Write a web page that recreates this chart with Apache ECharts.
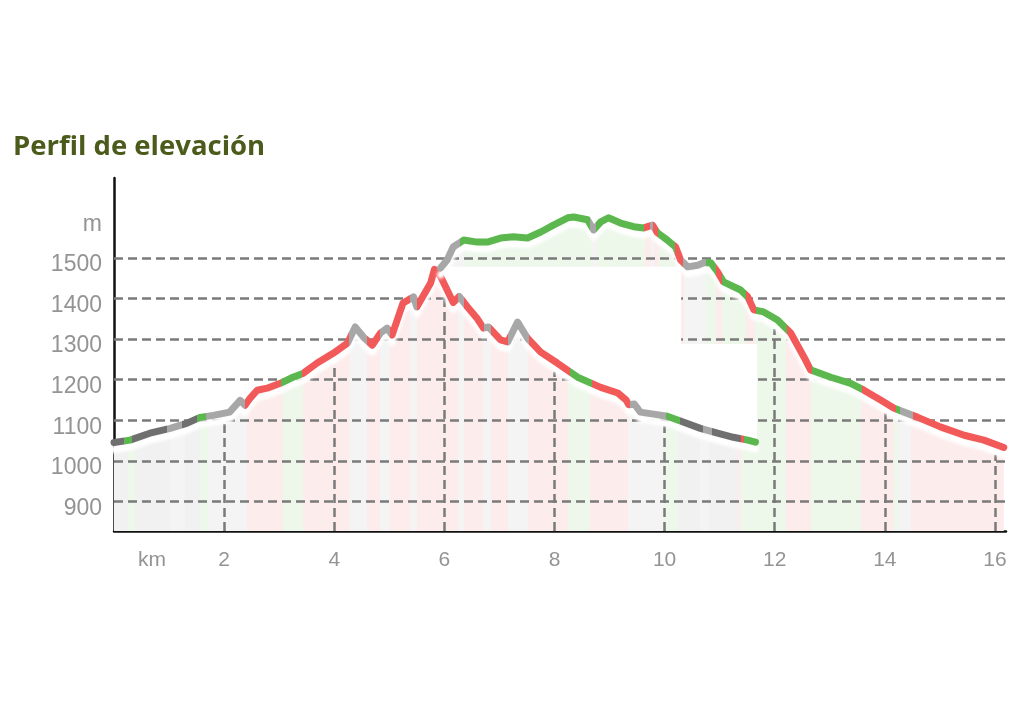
<!DOCTYPE html>
<html><head><meta charset="utf-8">
<script src="https://cdn.jsdelivr.net/npm/echarts@6/dist/echarts.min.js"></script>
<style>html,body{margin:0;padding:0;background:#fff}#c{width:1024px;height:709px}</style>
</head><body><div id="c"></div>
<script>
// ---- data (km, elevation m) ----
const routeA = [[0,1045],[0.29,1051],[0.65,1068],[1.02,1080],[1.33,1093],[1.56,1107],[1.8,1112],[2.1,1120],[2.29,1149],[2.38,1137],[2.47,1154],[2.6,1174],[2.78,1179],[3.02,1191],[3.25,1206],[3.44,1216],[3.69,1241],[3.98,1265],[4.24,1290],[4.38,1330],[4.53,1305],[4.69,1285],[4.84,1315],[4.96,1327],[5.05,1310],[5.25,1389],[5.44,1404],[5.5,1379],[5.75,1438],[5.82,1472],[5.93,1455],[6.16,1390],[6.27,1405],[6.42,1379],[6.6,1350],[6.71,1327],[6.8,1330],[7.02,1298],[7.15,1293],[7.33,1342],[7.51,1302],[7.75,1268],[8.05,1241],[8.42,1206],[8.84,1181],[9.15,1167],[9.3,1150],[9.35,1138],[9.45,1140],[9.56,1120],[9.8,1115],[10.05,1110],[10.35,1095],[10.65,1080],[10.96,1068],[11.25,1058],[11.51,1051],[11.65,1046]];
const routeB = [[5.93,1475],[6.05,1495],[6.16,1527],[6.35,1544],[6.6,1539],[6.78,1539],[7.02,1549],[7.25,1552],[7.51,1549],[7.75,1564],[7.98,1581],[8.24,1599],[8.35,1601],[8.6,1594],[8.71,1569],[8.84,1589],[8.98,1599],[9.2,1586],[9.44,1577],[9.62,1574],[9.78,1581],[9.87,1562],[10.05,1544],[10.2,1527],[10.29,1495],[10.42,1478],[10.6,1482],[10.71,1488],[10.84,1488],[10.96,1466],[11.07,1441],[11.38,1421],[11.51,1404],[11.62,1372],[11.8,1367],[12.05,1347],[12.29,1315],[12.53,1256],[12.65,1224],[13.02,1206],[13.38,1191],[13.62,1174],[13.93,1149],[14.16,1130],[14.35,1120],[14.6,1107],[15.02,1083],[15.44,1063],[15.8,1051],[16.16,1033]];
// slope class segments: start km and class
const segAStart = [0,0.25,0.38,1.02,1.29,1.56,1.71,2.42,3.07,3.44,4.29,4.6,4.84,5.02,5.38,5.51,6.24,6.35,6.71,6.84,7.15,7.51,8.25,8.65,9.33,9.98,10.24,10.65,10.8,11.33,11.38];
const segAGrade = ['dark','green','dark','light','dark','green','light','red','green','red','light','red','light','red','light','red','light','red','light','red','light','red','green','red','light','green','dark','light','dark','red','green'];
const segBStart = [5.93,6.35,8.68,8.78,9.65,9.75,9.8,9.9,10.2,10.35,10.75,10.93,11.05,11.47,11.65,12.2,12.65,13.56,14.16,14.24,14.47];
const segBGrade = ['light','green','light','green','red','light','red','green','red','light','green','red','green','red','green','red','green','red','green','light','red'];
const yGridValues = [900,1000,1100,1200,1300,1400,1500];
const yLabelValues = [900,1000,1100,1200,1300,1400,1500,1600];
const xGridValues = [2,4,6,8,10,12,14,16];
const titleText = 'Perfil de elevación';

// ---- layout / style ----
const X_MIN = 0, X_MAX = 16.2, Y_MIN = 827, Y_MAX = 1697;
const lineColors = {red:'#f25a5a', green:'#5cb84e', light:'#a7a7a7', dark:'#6f6f6f'};
const tintColors = {red:'#fdecec', green:'#edf7ea', light:'#f4f4f4', dark:'#f1f1f1'};
const maskBounds = {start:5.25, step:10.3, end:11.68, highTop:1478, lowTop:1288};
const gridStyle = {type:[9,5], color:'#7a7a7a', width:2.5};
const labelColor = '#949494';

function gradient(data, starts, grades, palette) {
  const x0 = data[0][0], x1 = data[data.length - 1][0];
  const stops = [];
  for (let i = 0; i < starts.length; i++) {
    const s = Math.max(0, (starts[i] - x0) / (x1 - x0));
    const e = i + 1 < starts.length ? Math.min(1, (starts[i + 1] - x0) / (x1 - x0)) : 1;
    const c = palette[grades[i]];
    stops.push({offset: s, color: c}, {offset: e, color: c});
  }
  return new echarts.graphic.LinearGradient(0, 0, 1, 0, stops);
}
function elevAt(data, km) {
  for (let i = 1; i < data.length; i++) {
    if (data[i][0] >= km) {
      const a = data[i - 1], b = data[i];
      return a[1] + (b[1] - a[1]) * (km - a[0]) / (b[0] - a[0]);
    }
  }
  return data[data.length - 1][1];
}

const markData = yGridValues.map(v => ({yAxis: v}));
xGridValues.forEach(k => {
  const src = k <= routeA[routeA.length - 1][0] ? routeA : routeB;
  markData.push([{coord: [k, Y_MIN]}, {coord: [k, elevAt(src, k) - 26]}]);
});

const chart = echarts.init(document.getElementById('c'), null, {renderer: 'canvas'});
chart.setOption({
  animation: false,
  backgroundColor: '#fff',
  title: {
    text: titleText, left: 13, top: 133, padding: 0,
    textStyle: {fontFamily: 'Open Sans', fontWeight: 'bold', fontSize: 27.5, color: '#4b5b1b'}
  },
  grid: {left: 114, right: 18, top: 178, bottom: 178},
  xAxis: {
    type: 'value', min: X_MIN, max: X_MAX, interval: 2,
    axisLine: {show: true, lineStyle: {color: '#111', width: 2.5}},
    axisTick: {show: false}, splitLine: {show: false},
    axisLabel: {
      showMaxLabel: false, margin: 19, fontSize: 21, color: labelColor, fontFamily: 'Liberation Sans',
      formatter: v => v === 0 ? '{k|km}' : String(v),
      rich: {k: {padding: [0, 0, 0, 76], fontSize: 21, color: labelColor, fontFamily: 'Liberation Sans'}}
    }
  },
  yAxis: {
    type: 'value', min: Y_MIN, max: Y_MAX,
    axisLine: {show: true, lineStyle: {color: '#111', width: 2.5}},
    axisTick: {show: false}, splitLine: {show: false},
    axisLabel: {
      customValues: yLabelValues, margin: 12,
      formatter: v => '{v|' + (v === 1600 ? 'm' : String(v)) + '}',
      rich: {v: {padding: [14, 0, 0, 0], fontSize: 23, color: labelColor, fontFamily: 'Liberation Sans'}}
    }
  },
  series: [
    {
      name: 'areaB', type: 'line', data: routeB, showSymbol: false, z: 1, silent: true,
      lineStyle: {width: 0},
      areaStyle: {color: gradient(routeB, segBStart, segBGrade, tintColors), opacity: 1, origin: 'start'}
    },
    {
      name: 'areaA', type: 'line', data: routeA, showSymbol: false, z: 1, silent: true,
      lineStyle: {width: 0},
      areaStyle: {color: gradient(routeA, segAStart, segAGrade, tintColors), opacity: 1, origin: 'start'},
      markLine: {
        z: 2, silent: true, symbol: 'none', animation: false,
        label: {show: false}, lineStyle: gridStyle, emphasis: {disabled: true},
        data: markData
      }
    },
    {
      name: 'mask', type: 'custom', z: 3, silent: true,
      data: [[maskBounds.start, maskBounds.highTop]],
      renderItem: (params, api) => {
        const mb = maskBounds;
        const pts = [api.coord([mb.start, elevAt(routeA, mb.start)])];
        routeA.forEach(p => { if (p[0] > mb.start && p[0] < mb.end) pts.push(api.coord(p)); });
        pts.push(api.coord([mb.end, routeA[routeA.length - 1][1]]));
        pts.push(api.coord([mb.end, mb.lowTop]));
        pts.push(api.coord([mb.step, mb.lowTop]));
        pts.push(api.coord([mb.step, mb.highTop]));
        pts.push(api.coord([mb.start, mb.highTop]));
        return {type: 'polygon', shape: {points: pts}, style: {fill: '#fff'}};
      }
    },
    {
      name: 'lineA', type: 'line', data: routeA, showSymbol: false, z: 4, silent: true,
      lineStyle: {width: 7, color: gradient(routeA, segAStart, segAGrade, lineColors),
        shadowColor: '#fff', shadowOffsetY: 7, shadowBlur: 3, join: 'round', cap: 'round'}
    },
    {
      name: 'lineB', type: 'line', data: routeB, showSymbol: false, z: 4, silent: true,
      lineStyle: {width: 7, color: gradient(routeB, segBStart, segBGrade, lineColors),
        shadowColor: '#fff', shadowOffsetY: 7, shadowBlur: 3, join: 'round', cap: 'round'}
    }
  ]
});
</script>
</body></html>
